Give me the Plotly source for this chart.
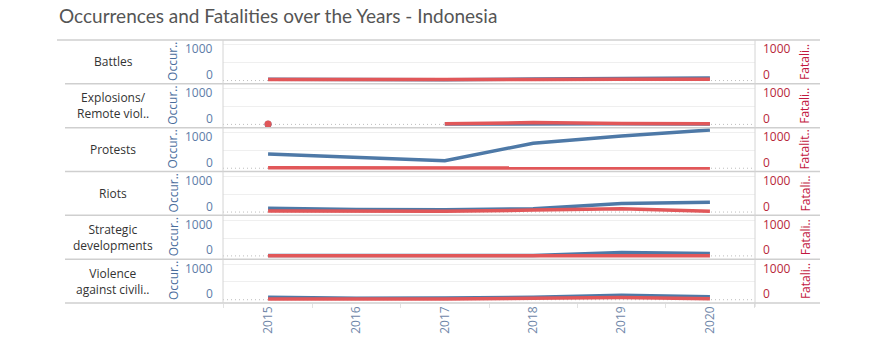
import plotly.graph_objects as go

# ---------------- data ----------------
years = [2015, 2016, 2017, 2018, 2019, 2020]
row_labels = ["Battles", "Explosions/<br>Remote viol..", "Protests", "Riots",
              "Strategic<br>developments", "Violence<br>against civili.."]
left_titles = ["Occur..", "Occur..", "Occur..", "Occur..", "Occur..", "Occur.."]
right_titles = ["Fatali..", "Fatali..", "Fatalit..", "Fatali..", "Fatali..", "Fatali.."]
axis_ticks = [0, 1000]

occ_battles = [40, 30, 20, 45, 55, 70]
fat_battles = [30, 25, 15, 30, 35, 40]
occ_explosions = [5, None, 10, 20, 15, 10]
fat_explosions = [10, None, 20, 50, 25, 15]
occ_protests = [397, 300, 211, 703, 905, 1072]
fat_protests = [10, 8, 5, 12, 10, 8]
occ_riots = [110, 72, 65, 92, 240, 278]
fat_riots = [28, 25, 22, 55, 92, 20]
occ_strategic = [10, 8, 8, 12, 95, 70]
fat_strategic = [2, 1, 1, 2, 5, 3]
occ_violence = [70, 45, 50, 70, 128, 85]
fat_violence = [20, 10, 20, 40, 60, 30]

occurrences = [occ_battles, occ_explosions, occ_protests, occ_riots, occ_strategic, occ_violence]
fatalities = [fat_battles, fat_explosions, fat_protests, fat_riots, fat_strategic, fat_violence]

# ---------------- style ----------------
W, H = 876, 354
PL, PR = 223, 755          # pane left/right px
PT, PB = 39.5, 303.5       # pane top/bottom px
BLUE = "#4e79a7"
RED = "#e15759"
FONT = "Open Sans"
Y_RANGE = [-92, 1139]
X_RANGE = [2014.49, 2020.51]
N = len(row_labels)


def px_to_paper_x(px):
    return (px - PL) / (PR - PL)


def isolated(vals):
    xs, ys = [], []
    for k, v in enumerate(vals):
        if v is None:
            continue
        prev_none = k == 0 or vals[k - 1] is None
        next_none = k == len(vals) - 1 or vals[k + 1] is None
        if prev_none and next_none:
            xs.append(years[k])
            ys.append(v)
    return xs, ys


fig = go.Figure()
layout = dict(
    width=W, height=H,
    margin=dict(l=PL, r=W - PR, t=PT, b=H - PB, pad=0),
    paper_bgcolor="white", plot_bgcolor="white",
    showlegend=False,
    font=dict(family=FONT, size=12, color="#333333"),
)
annotations = []
shapes = []

for i in range(N):
    xa = "x" if i == 0 else f"x{i + 1}"
    ya1 = f"y{2 * i + 1}" if i > 0 else "y"
    ya2 = f"y{2 * i + 2}"
    top = 1 - i / N
    bot = 1 - (i + 1) / N

    for series, color, yax in ((occurrences[i], BLUE, ya1), (fatalities[i], RED, ya2)):
        fig.add_trace(go.Scatter(x=years, y=series, mode="lines", xaxis=xa, yaxis=yax,
                                 line=dict(color=color, width=3.5), connectgaps=False,
                                 hoverinfo="skip"))
        ix, iy = isolated(series)
        if ix:
            fig.add_trace(go.Scatter(x=ix, y=iy, mode="markers", xaxis=xa, yaxis=yax,
                                     marker=dict(color=color, size=7), hoverinfo="skip"))

    xkey = "xaxis" if i == 0 else f"xaxis{i + 1}"
    last = i == N - 1
    xdict = dict(domain=[0, 1], range=X_RANGE, anchor=ya1, showgrid=False, zeroline=False,
                 showline=False, fixedrange=True)
    if last:
        xdict.update(tickmode="array", tickvals=years, ticktext=[str(y) for y in years],
                     tickangle=-90, tickfont=dict(family=FONT, size=12, color="#6f86a8"),
                     ticks="", ticklen=0,
                     minor=dict(ticks="outside", tick0=2015.5, dtick=1, ticklen=4,
                                tickcolor="#e2e2e2", tickwidth=1))
    else:
        xdict.update(showticklabels=False, ticks="")
    if i > 0:
        xdict["matches"] = "x"
    layout[xkey] = xdict

    y1key = "yaxis" if i == 0 else f"yaxis{2 * i + 1}"
    layout[y1key] = dict(domain=[bot, top], range=Y_RANGE, anchor=xa, showticklabels=False,
                         tickmode="array", tickvals=[500, 1000], showgrid=True,
                         gridcolor="#efefef", gridwidth=1, zeroline=False, showline=False,
                         ticks="", fixedrange=True)
    layout[f"yaxis{2 * i + 2}"] = dict(domain=[bot, top], range=Y_RANGE, anchor=xa,
                                       overlaying=ya1, side="right", showticklabels=False,
                                       showgrid=False, zeroline=False, showline=False,
                                       ticks="", fixedrange=True)

    # dotted zero line
    shapes.append(dict(type="line", xref="paper", yref=ya1, x0=0, x1=1, y0=0, y1=0,
                       line=dict(color="#bdbdbd", width=1, dash="1px,3px"), layer="below"))
    # row separator
    shapes.append(dict(type="line", xref="paper", yref="paper", x0=px_to_paper_x(65),
                       x1=px_to_paper_x(820), y0=bot, y1=bot,
                       line=dict(color="#cfcfcf", width=1.5)))

    # row header
    annotations.append(dict(text=row_labels[i], xref="paper", yref=f"{ya1} domain",
                            x=px_to_paper_x(113), y=0.5, xanchor="center", yanchor="middle",
                            showarrow=False, align="center",
                            font=dict(family=FONT, size=12, color="#333333")))
    # axis titles
    annotations.append(dict(text=left_titles[i], xref="paper", yref=f"{ya1} domain",
                            x=px_to_paper_x(173), y=0.5, xanchor="center", yanchor="middle",
                            textangle=-90, showarrow=False,
                            font=dict(family=FONT, size=12, color="#4a6d9c")))
    annotations.append(dict(text=right_titles[i], xref="paper", yref=f"{ya1} domain",
                            x=px_to_paper_x(805), y=0.5, xanchor="center", yanchor="middle",
                            textangle=-90, showarrow=False,
                            font=dict(family=FONT, size=12, color="#c2183f")))
    # tick labels (shifted inward like Tableau)
    for v in axis_ticks:
        shift = -4 if v == max(axis_ticks) else 6
        annotations.append(dict(text=str(v), xref="paper", yref=ya1, x=0, y=v,
                                xanchor="right", yanchor="middle", xshift=-8, yshift=shift,
                                showarrow=False,
                                font=dict(family=FONT, size=12, color="#5d7ca8")))
        annotations.append(dict(text=str(v), xref="paper", yref=ya2, x=1, y=v,
                                xanchor="left", yanchor="middle", xshift=6, yshift=shift,
                                showarrow=False,
                                font=dict(family=FONT, size=12, color="#b8283a")))

# title underline / top border
shapes.append(dict(type="line", xref="paper", yref="paper", x0=px_to_paper_x(57),
                   x1=px_to_paper_x(820), y0=1, y1=1, line=dict(color="#cfcfcf", width=1.5)))
# pane vertical borders
shapes.append(dict(type="line", xref="paper", yref="paper", x0=0, x1=0, y0=0, y1=1,
                   line=dict(color="#d4d4d4", width=1)))
shapes.append(dict(type="line", xref="paper", yref="paper", x0=1, x1=1, y0=-0.015, y1=1,
                   line=dict(color="#d4d4d4", width=1)))

layout["annotations"] = annotations
layout["shapes"] = shapes
layout["title"] = dict(text="Occurrences and Fatalities over the Years - Indonesia",
                       xref="container", yref="container", x=59 / W, xanchor="left",
                       y=1 - 16 / H, yanchor="middle",
                       font=dict(family="Lato", size=19, color="#555555"))
fig.update_layout(**layout)
fig.write_html("out.html")
